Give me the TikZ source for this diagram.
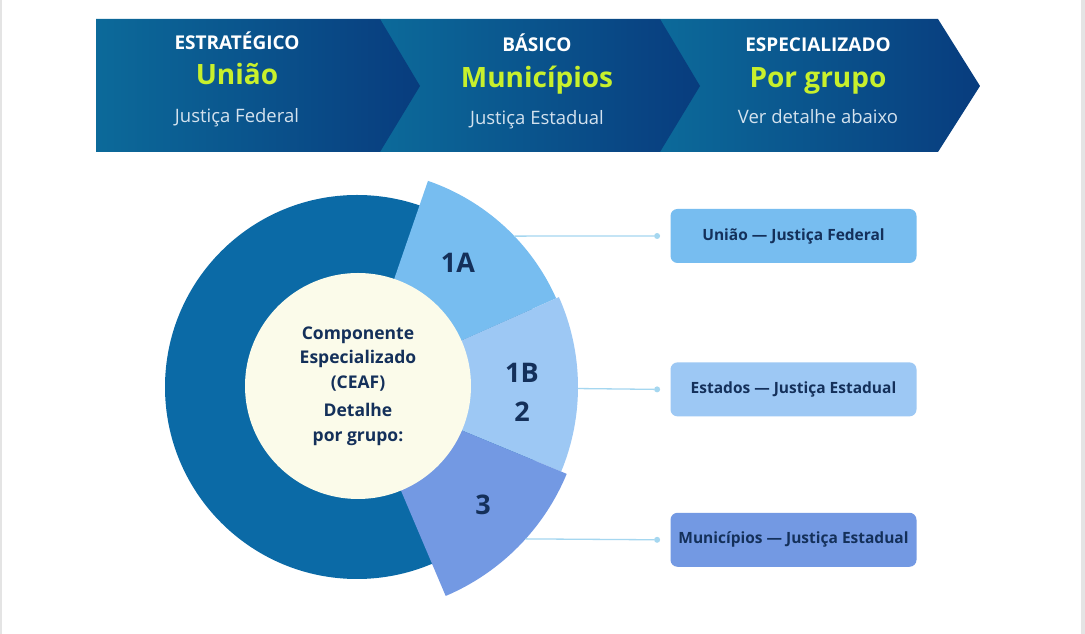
\documentclass[tikz,border=0pt]{standalone}
\usepackage{fontspec}
\setmainfont{Open Sans}
\usepackage{xcolor}
\usepackage{tikz}
\usetikzlibrary{positioning}
\definecolor{bandL}{RGB}{12,106,154}
\definecolor{bandR}{RGB}{8,60,126}
\definecolor{lime}{RGB}{200,240,44}
\definecolor{paleblue}{RGB}{212,226,238}
\definecolor{ring}{RGB}{11,106,166}
\definecolor{grpA}{RGB}{119,189,240}
\definecolor{grpB}{RGB}{157,200,244}
\definecolor{grpC}{RGB}{115,153,227}
\definecolor{cream}{RGB}{251,251,234}
\definecolor{navy}{RGB}{20,48,90}
\definecolor{linkblue}{RGB}{165,215,240}
\definecolor{edgegray}{RGB}{228,228,228}

\begin{document}
\begin{tikzpicture}[
  x=1pt, y=1pt,
  node distance=99pt and 10pt,
  chevron/.style={left color=bandL, right color=bandR},
  tier/.style={anchor=base, text=white, font=\bfseries\fontsize{19}{21}\selectfont},
  who/.style={anchor=base, text=lime, font=\bfseries\fontsize{28}{30}\selectfont},
  court/.style={anchor=base, text=paleblue, font=\fontsize{18.5}{20}\selectfont},
  seglbl/.style={anchor=base, text=navy, align=center, font=\bfseries\fontsize{27}{39}\selectfont},
  core/.style={circle, fill=cream, minimum size=226pt, align=center, text=navy,
               font=\bfseries\fontsize{17.5}{24.5}\selectfont},
  grpbox/.style={rounded corners=7pt, minimum width=246pt, minimum height=54pt,
                 text=navy, font=\bfseries\fontsize{15.5}{17}\selectfont},
  enddot/.style={circle, fill=linkblue, inner sep=0pt, minimum size=6pt},
  link/.style={draw=linkblue, line width=1.3pt}
]
  \useasboundingbox (0,0) rectangle (1085,634);
  \fill[white] (0,0) rectangle (1085,634);
  \fill[edgegray] (0,0) rectangle (2,634);
  \fill[edgegray] (1081,0) rectangle (1085,634);

  % top band, right to left so each point overlaps the next
  \shade[chevron] (660,615) -- (938,615) -- (980,548) -- (938,482) -- (660,482) -- cycle;
  \shade[chevron] (380,615) -- (660,615) -- (700,548) -- (660,482) -- (380,482) -- cycle;
  \shade[chevron] (96,615) -- (380,615) -- (420,548) -- (380,482) -- (96,482) -- cycle;

  \node[tier]  (tier1) at (237,584) {ESTRATÉGICO};
  \node[who]   (who1)  at (237,549) {União};
  \node[court] (crt1)  at (237,511) {Justiça Federal};
  \node[tier]  (tier2) at (537,582) {BÁSICO};
  \node[who]   (who2)  at (537,546) {Municípios};
  \node[court] (crt2)  at (537,509) {Justiça Estadual};
  \node[tier]  (tier3) at (818,582) {ESPECIALIZADO};
  \node[who]   (who3)  at (818,546) {Por grupo};
  \node[court] (crt3)  at (818,510) {Ver detalhe abaixo};

  % donut with the three groups
  \coordinate (c) at (357,247);
  \fill[ring] (c) circle[radius=192];
  \fill[grpA] (c) -- ++(24:218) arc[start angle=24, end angle=71, radius=218] -- cycle;
  \fill[grpB] (c) -- ++(-22.5:221) arc[start angle=-22.5, end angle=24, radius=221] -- cycle;
  \fill[grpC] (c) -- ++(-67:227) arc[start angle=-67, end angle=-22.5, radius=227] -- cycle;
  \node[core] (ceaf) at (358,248) {Componente\\Especializado\\(CEAF)\\[4pt]Detalhe\\por grupo:};

  \node[seglbl] (lblA) at (458,361) {1A};
  \node[seglbl] (lblB) at (522,212) {1B\\2};
  \node[seglbl] (lblC) at (483,119) {3};

  \path (c) ++(43.8:218) coordinate (edgeA);
  \path (c) ++(-0.4:221) coordinate (edgeB);
  \path (c) ++(-42:227) coordinate (edgeC);

  % group boxes (right column)
  \node[grpbox, fill=grpA] (uniao) at (793.5,398) {União — Justiça Federal};
  \node[grpbox, fill=grpB, below=of uniao] (estados) {Estados — Justiça Estadual};
  \node[grpbox, fill=grpC, below=96pt of estados] (municipios) {Municípios — Justiça Estadual};

  \node[enddot, left=of uniao] (dotA) {};
  \node[enddot, left=of estados] (dotB) {};
  \node[enddot, left=of municipios] (dotC) {};
  \draw[link] (edgeA) -- (dotA);
  \draw[link] (edgeB) -- (dotB);
  \draw[link] (edgeC) -- (dotC);
\end{tikzpicture}
\end{document}
